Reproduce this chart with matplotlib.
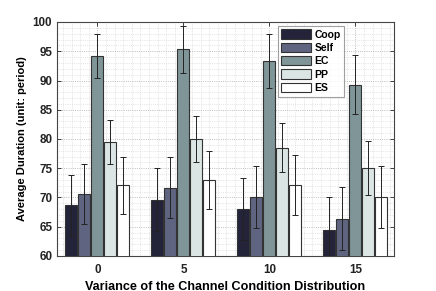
import numpy as np
import matplotlib.pyplot as plt
from matplotlib.ticker import MultipleLocator

plt.rcParams['font.family'] = ['Liberation Sans', 'DejaVu Sans']
plt.rcParams['font.weight'] = 'bold'

variances = ['0', '5', '10', '15']
methods = ['Coop', 'Self', 'EC', 'PP', 'ES']
colors = ['#23233a', '#5f6580', '#7f9598', '#dae5e4', '#ffffff']

coop = [68.7, 69.6, 68.1, 64.5]
self_ = [70.6, 71.7, 70.1, 66.4]
ec = [94.2, 95.3, 93.4, 89.3]
pp = [79.5, 80.0, 78.5, 75.1]
es = [72.1, 73.0, 72.1, 70.1]

coop_err = [5.2, 5.4, 5.3, 5.5]
self_err = [5.1, 5.2, 5.3, 5.4]
ec_err = [3.8, 4.1, 4.6, 5.0]
pp_err = [3.8, 4.0, 4.2, 4.6]
es_err = [4.9, 5.0, 5.1, 5.3]

values = [coop, self_, ec, pp, es]
errors = [coop_err, self_err, ec_err, pp_err, es_err]

fig = plt.figure(figsize=(4.36, 2.91), dpi=100)
ax = fig.add_axes([57 / 436, 1 - 256 / 291, 337 / 436, 234 / 291])

x = np.arange(1, len(variances) + 1)
step = 0.151
width = 0.14
for i, (name, vals, errs, col) in enumerate(zip(methods, values, errors, colors)):
    pos = x + (i - 2) * step
    ax.bar(pos, vals, width, color=col, edgecolor='#333333', linewidth=0.8,
           label=name, zorder=3)
    ax.errorbar(pos, vals, yerr=errs, fmt='none', ecolor='#222222',
                elinewidth=0.7, capsize=2.5, capthick=0.7, zorder=4)

ax.set_xlim(0.53, 4.45)
ax.set_ylim(60, 100)
ax.set_xticks(x)
ax.set_xticklabels(variances)
ax.yaxis.set_major_locator(MultipleLocator(5))
ax.yaxis.set_minor_locator(MultipleLocator(1))
ax.xaxis.set_minor_locator(MultipleLocator(0.1))
ax.grid(which='major', linestyle=':', color='#a8a8a8', linewidth=0.6, zorder=0)
ax.grid(which='minor', linestyle=':', color='#d0d0d0', linewidth=0.5, zorder=0)
ax.tick_params(which='both', direction='in', top=True, right=True,
               labelsize=8.4, colors='#222222', length=3, width=0.6)
ax.tick_params(axis='x', pad=6)
ax.tick_params(which='minor', length=0)
for s in ax.spines.values():
    s.set_color('#444444')
    s.set_linewidth(0.8)

ax.set_xlabel('Variance of the Channel Condition Distribution', fontsize=9.1,
              fontweight='bold', labelpad=3)
ax.set_ylabel('Average Duration (unit: period)', fontsize=8.0,
              fontweight='bold', labelpad=4)

leg = ax.legend(loc='upper right', bbox_to_anchor=(0.852, 0.984), fontsize=7.5,
                frameon=True, fancybox=False, edgecolor='#888888',
                borderaxespad=0, handlelength=2.8, handleheight=1.0,
                labelspacing=0.3, borderpad=0.35, handletextpad=0.35)
leg.get_frame().set_linewidth(0.8)
for t in leg.get_texts():
    t.set_fontweight('bold')

fig.savefig('out.png', dpi=100)
